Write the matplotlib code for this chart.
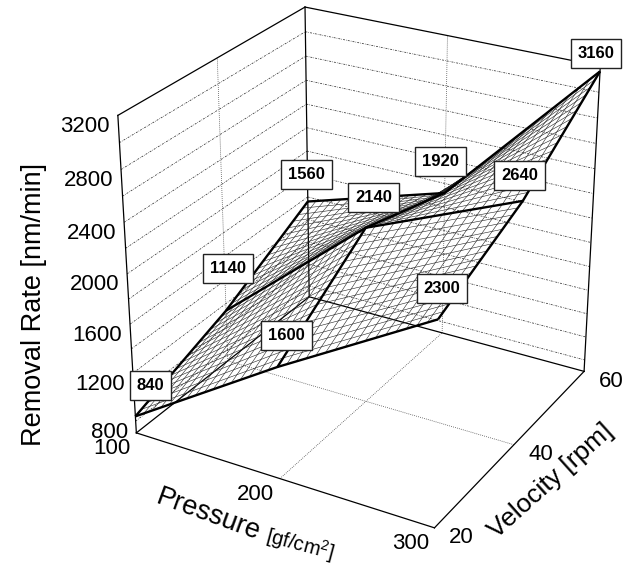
import numpy as np
import matplotlib
matplotlib.use('Agg')
import matplotlib.pyplot as plt
from mpl_toolkits.mplot3d import proj3d

plt.rcParams['font.family'] = ['Liberation Sans', 'DejaVu Sans']
plt.rcParams['mathtext.fontset'] = 'custom'
plt.rcParams['mathtext.rm'] = 'Liberation Sans'

# Removal rate read from the labelled points
pressure = [100, 200, 300]
velocity = [20, 40, 60]
rate_v20 = [840, 1600, 2300]
rate_v40 = [1140, 2140, 2640]
rate_v60 = [1560, 1920, 3160]

pressure_ticks = [100, 200, 300]
velocity_ticks = [20, 40, 60]
rate_labels = [800, 1200, 1600, 2000, 2400, 2800, 3200]
rate_grid = [800, 1000, 1200, 1400, 1600, 1800, 2000, 2200, 2400, 2600, 2800, 3000]

# The box floor sits a little under the 800 tick
z_floor, z_top = 700, 3200

# Pixel offset of each value box from its point
box_offsets = {840: (15, 31), 1600: (9, 32), 2300: (4, 31),
               1140: (2, 42), 2140: (8, 30), 2640: (-3, 25),
               1560: (-1, 27), 1920: (-4, 31), 3160: (-4, 18)}

W, H = 637, 566
fig = plt.figure(figsize=(W / 100, H / 100), dpi=100)
ax = fig.add_axes([70.1 / W, 18.8 / H, 575.8 / W, 575.8 / H], projection='3d')
ax.computed_zorder = False
ax.set_xlim(100, 300)
ax.set_ylim(20, 60)
ax.set_zlim(z_floor, z_top)
ax.view_init(26.72, -60.22, 0.04)
ax.set_proj_type('persp', focal_length=0.6746)
ax.set_box_aspect((1.209, 1.196, 1.232))
ax.set_axis_off()

# Walls and floor grid
grid_style = dict(color='#333333', lw=0.55, ls=(0, (2.5, 1.5, 0.8, 1.5)), zorder=1)
dotted = dict(grid_style, ls=':')
for z in rate_grid:
    ax.plot([100, 100], [20, 60], [z, z], **grid_style)
    ax.plot([100, 300], [60, 60], [z, z], **grid_style)
ax.plot([100, 100], [40, 40], [z_floor, z_top], **dotted)
ax.plot([200, 200], [60, 60], [z_floor, z_top], **dotted)
ax.plot([200, 200], [20, 60], [z_floor, z_floor], **dotted)
ax.plot([100, 300], [40, 40], [z_floor, z_floor], **dotted)

# Box outline
box_edges = [((100, 20, z_floor), (300, 20, z_floor)), ((300, 20, z_floor), (300, 60, z_floor)),
             ((300, 60, z_floor), (100, 60, z_floor)), ((100, 60, z_floor), (100, 20, z_floor)),
             ((100, 20, z_floor), (100, 20, z_top)), ((100, 60, z_floor), (100, 60, z_top)),
             ((300, 60, z_floor), (300, 60, z_top)), ((100, 20, z_top), (100, 60, z_top)),
             ((100, 60, z_top), (300, 60, z_top))]
for a, b in box_edges:
    ax.plot(*zip(a, b), color='black', lw=0.9, zorder=2)

# Surface: fine net over the nine values, heavy lines through the values themselves
rate = np.array([rate_v20, rate_v40, rate_v60], dtype=float)
P, V = np.meshgrid(pressure, velocity)
p_fine = np.linspace(100, 300, 33)
v_fine = np.linspace(20, 60, 33)
along_p = np.array([np.interp(p_fine, pressure, row) for row in rate])
fine = np.array([np.interp(v_fine, velocity, col) for col in along_p.T]).T
PF, VF = np.meshgrid(p_fine, v_fine)
ax.plot_wireframe(PF, VF, fine, color='#222222', lw=0.4, rstride=1, cstride=1, zorder=3)
ax.plot_wireframe(P, V, rate, color='black', lw=1.7, rstride=1, cstride=1, zorder=4)

M = ax.get_proj()


def to_2d(p, v, z):
    x, y, _ = proj3d.proj_transform(p, v, z, M)
    return float(x), float(y)


for j, v in enumerate(velocity):
    for i, p in enumerate(pressure):
        val = int(rate[j, i])
        ax.annotate(str(val), xy=to_2d(p, v, val), xytext=box_offsets[val],
                    textcoords='offset pixels', ha='center', va='center',
                    fontsize=12, fontweight='bold', annotation_clip=False, zorder=10,
                    bbox=dict(boxstyle='square,pad=0.42', fc='white', ec='#222222', lw=1.0))

# Tick labels
tick_size = 16
for p in pressure_ticks:
    ax.annotate(str(p), xy=to_2d(p, 20, z_floor), xytext=(-24, -16), textcoords='offset pixels',
                ha='center', va='center', fontsize=tick_size, annotation_clip=False)
for v in velocity_ticks:
    ax.annotate(str(v), xy=to_2d(300, v, z_floor), xytext=(27, -10), textcoords='offset pixels',
                ha='center', va='center', fontsize=tick_size, annotation_clip=False)
for z in rate_labels:
    ax.annotate(str(z), xy=to_2d(100, 20, z), xytext=(-8, -11),
                textcoords='offset pixels', ha='right', va='center',
                fontsize=tick_size, annotation_clip=False)

# Axis titles
fig.text(34 / W, 1 - 304 / H, 'Removal Rate [nm/min]', rotation=90, ha='center', va='center', fontsize=19.5)
fig.text(208 / W, 1 - 515 / H, 'Pressure', rotation=-20, ha='center', va='center', fontsize=19.5,
         rotation_mode='anchor')
fig.text(300 / W, 1 - 545 / H, '[gf/cm$^2$]', rotation=-15, ha='center', va='center', fontsize=14.5,
         rotation_mode='anchor')
fig.text(551 / W, 1 - 481 / H, 'Velocity [rpm]', rotation=42, ha='center', va='center', fontsize=19,
         rotation_mode='anchor')

fig.savefig('out.png', dpi=100)
